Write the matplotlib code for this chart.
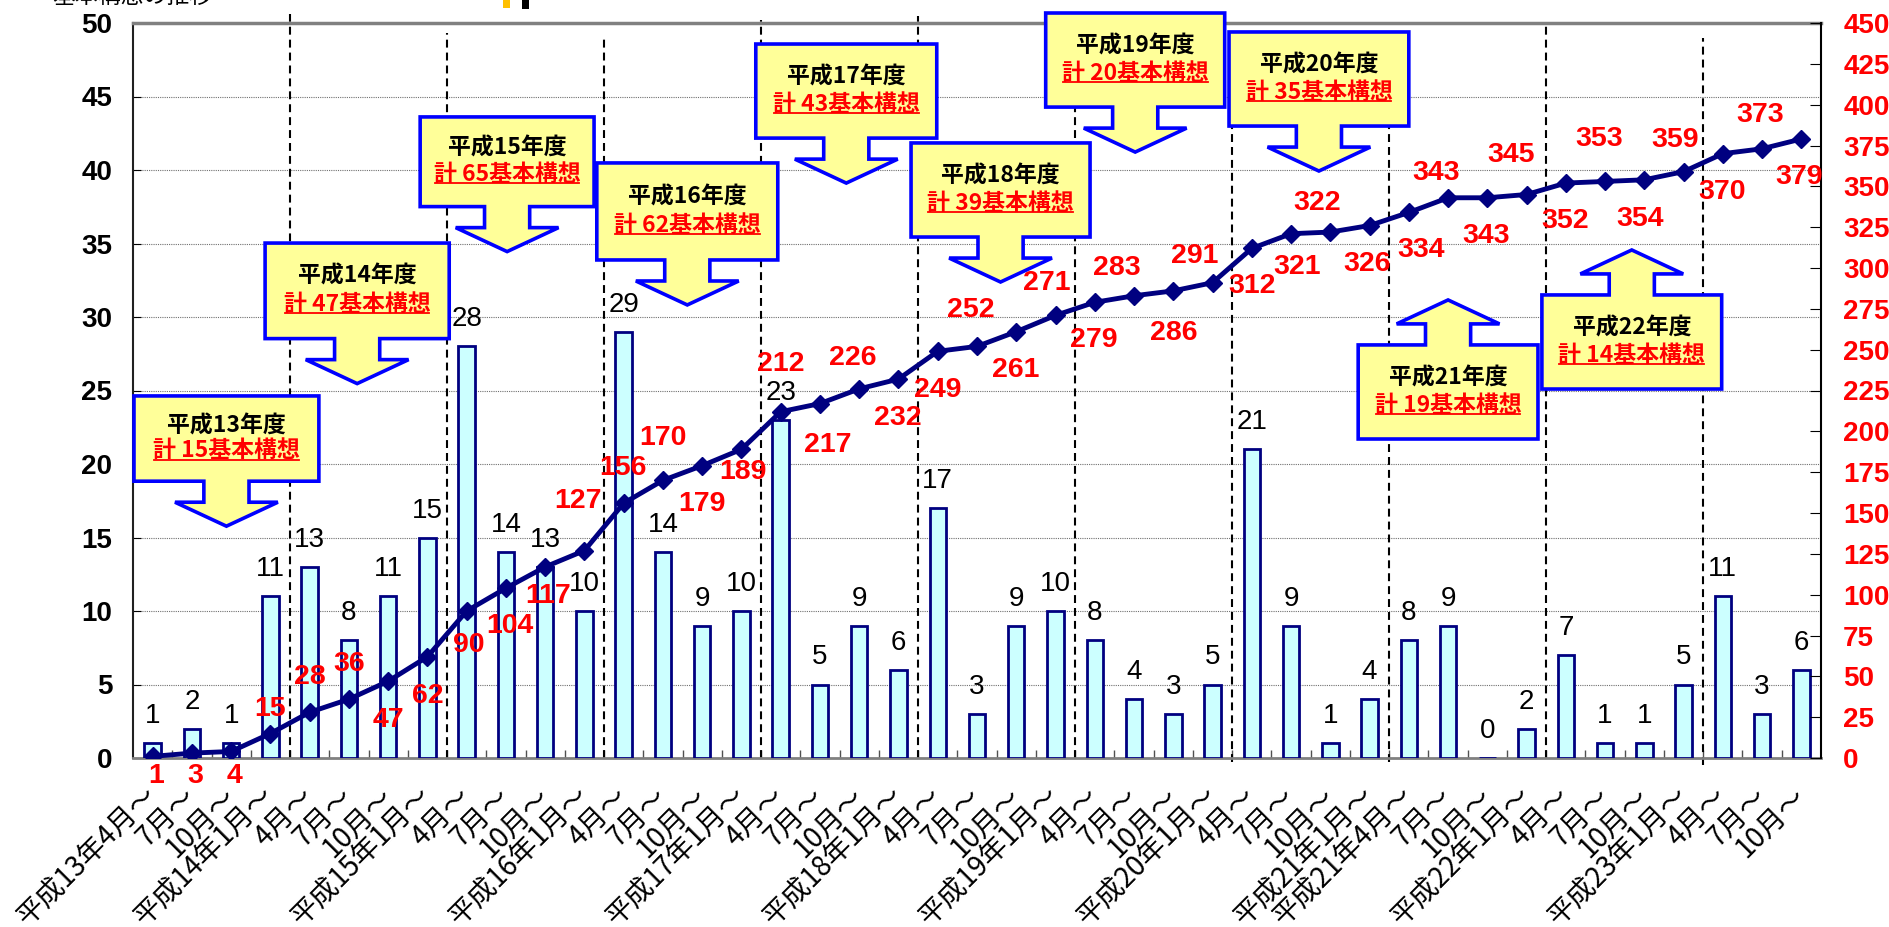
import numpy as np
import matplotlib
matplotlib.use('Agg')
import matplotlib.pyplot as plt
from matplotlib.patches import Polygon, Rectangle
from matplotlib.lines import Line2D

plt.rcParams['font.family'] = ['Liberation Sans', 'Noto Sans CJK JP']

# quarterly periods (平成13年4月 - 平成23年10月)
periods = ['平成13年4月～', '7月～', '10月～', '平成14年1月～',
           '4月～', '7月～', '10月～', '平成15年1月～',
           '4月～', '7月～', '10月～', '平成16年1月～',
           '4月～', '7月～', '10月～', '平成17年1月～',
           '4月～', '7月～', '10月～', '平成18年1月～',
           '4月～', '7月～', '10月～', '平成19年1月～',
           '4月～', '7月～', '10月～', '平成20年1月～',
           '4月～', '7月～', '10月～', '平成21年1月～',
           '平成21年4月～', '7月～', '10月～', '平成22年1月～',
           '4月～', '7月～', '10月～', '平成23年1月～',
           '4月～', '7月～', '10月～']
counts = [1, 2, 1, 11, 13, 8, 11, 15, 28, 14, 13, 10, 29, 14, 9, 10,
          23, 5, 9, 6, 17, 3, 9, 10, 8, 4, 3, 5, 21, 9, 1, 4,
          8, 9, 0, 2, 7, 1, 1, 5, 11, 3, 6]
cumulative = [1, 3, 4, 15, 28, 36, 47, 62, 90, 104, 117, 127, 156, 170, 179, 189,
              212, 217, 226, 232, 249, 252, 261, 271, 279, 283, 286, 291,
              312, 321, 322, 326, 334, 343, 343, 345, 352, 353, 354, 359,
              370, 373, 379]
fy_names = ['平成13年度', '平成14年度', '平成15年度', '平成16年度', '平成17年度',
            '平成18年度', '平成19年度', '平成20年度', '平成21年度', '平成22年度']
fy_totals = [15, 47, 65, 62, 43, 39, 20, 35, 19, 14]

# layout: label offsets (pixels) for cumulative numbers
cum_off = [(3, -20), (3, -23), (3, -25), (0, 25), (0, 35), (0, 35), (0, -39), (0, -39),
           (2, -34), (4, -38), (3, -29), (-6, 50), (-1, 35), (0, 42), (0, -38), (1, -23),
           (0, 48), (8, -41), (-6, 31), (-1, -39), (0, -39), (-6, 36), (-1, -38), (-9, 32),
           (-1, -38), (-17, 28), (0, -42), (-18, 27), (0, -38), (6, -33), (-13, 29), (-2, -38),
           (12, -38), (-12, 25), (-1, -38), (-15, 40), (-1, -38), (-6, 42), (-4, -39), (-9, 32),
           (-1, -38), (-2, 34), (-2, -38)]
# layout: callouts (center x, box top, width, height, direction) in left-axis units
callouts = [(1.88, 24.63, 4.71, 5.8, 'down'), (5.21, 35.03, 4.69, 6.5, 'down'),
            (9.03, 43.61, 4.43, 6.1, 'down'), (13.62, 40.48, 4.61, 6.6, 'down'),
            (17.67, 48.57, 4.61, 6.4, 'down'), (21.60, 41.84, 4.56, 6.4, 'down'),
            (25.03, 50.68, 4.56, 6.4, 'down'), (29.71, 49.39, 4.58, 6.4, 'down'),
            (33.00, 28.10, 4.58, 6.4, 'up'), (37.68, 31.50, 4.58, 6.4, 'up')]
# layout: fiscal-year separators (x, bottom, top)
separators = [(3.5, 0, 50.6), (7.5, 0, 49.3), (11.5, 0, 49.0), (15.5, 0, 50.2), (19.5, 0, 50.5),
              (23.5, 0, 50.0), (27.5, -0.3, 49.0), (31.5, -0.3, 49.0), (35.5, 0, 50.0),
              (39.5, -0.5, 49.0)]

W, H = 1890, 927
fig = plt.figure(figsize=(W/100, H/100), dpi=100)
ax = fig.add_axes([133/W, 1-758/H, (1821-133)/W, (758-23)/H])
ax2 = ax.twinx()
ax2.set_zorder(ax.get_zorder()+1)
ax2.patch.set_visible(False)

x = np.arange(len(counts))
narrow = ['Liberation Sans Narrow', 'Liberation Sans']

ax.bar(x, counts, width=0.42, color='#CCFFFF', edgecolor='#000080', linewidth=2, zorder=3)
for i, c in enumerate(counts):
    ax.annotate(str(c), (i, c), xytext=(0, 27), textcoords='offset pixels',
                ha='center', va='center', fontsize=20, color='black', zorder=4)

for sx, y0, y1 in separators:
    ax.plot([sx, sx], [y0, y1], color='black', lw=1.5, ls=(0, (3.8, 2.4)), clip_on=False, zorder=2)

ax.set_xlim(-0.5, len(counts)-0.5)
ax.set_ylim(0, 50)
ax.set_yticks(np.arange(0, 51, 5))
ax.grid(axis='y', color='#707070', ls=(0, (1, 1)), lw=0.8)
ax.set_axisbelow(True)
ax.set_xticks(x)
ax.set_xticklabels(periods, rotation=45, ha='right', va='center', rotation_mode='anchor',
                   fontsize=20, family=['Noto Sans CJK JP'])
ax.set_xticks(np.arange(0.5, len(counts)-1, 1), minor=True)
ax.tick_params(axis='x', which='major', length=0, pad=24)
ax.tick_params(axis='x', which='minor', direction='in', length=6, color='#505050', width=1)
ax.tick_params(axis='y', direction='in', length=6, pad=15, labelsize=20)
for lab in ax.get_yticklabels():
    lab.set_fontweight('bold')

ax.spines['top'].set_color('#808080')
ax.spines['top'].set_linewidth(2.5)
ax.spines['bottom'].set_color('#808080')
ax.spines['bottom'].set_linewidth(2)
ax.spines['left'].set_color('#202020')
ax.spines['left'].set_linewidth(1.5)
ax.spines['right'].set_visible(False)
for s in ['top', 'bottom', 'left']:
    ax2.spines[s].set_visible(False)
ax2.spines['right'].set_color('black')
ax2.spines['right'].set_linewidth(1.5)

ax2.plot(x, cumulative, color='#000080', lw=3.5, marker='D', ms=9, zorder=5)
ax2.set_ylim(0, 450)
ax2.set_yticks(np.arange(0, 451, 25))
ax2.tick_params(axis='y', direction='in', length=8, pad=16, labelsize=20, labelcolor='red', color='black')
for lab in ax2.get_yticklabels():
    lab.set_fontweight('bold')
for i, v in enumerate(cumulative):
    ax2.annotate(str(v), (i, v), xytext=cum_off[i], textcoords='offset pixels',
                 ha='center', va='center', fontsize=20.5, fontweight='bold',
                 color='red', family=narrow, zorder=6)

# callouts for each fiscal year
shaft_w, head_w, shaft_l, head_l = 1.15, 2.62, 1.43, 1.63
red_lines = []
for (cx, top, w, h, d), name, tot in zip(callouts, fy_names, fy_totals):
    bot = top - h
    x0, x1 = cx - w/2, cx + w/2
    if d == 'down':
        b, s = bot, -1
        pts = [(x0, top), (x1, top), (x1, bot)]
    else:
        b, s = top, 1
        pts = [(x0, bot), (x1, bot), (x1, top)]
    pts += [(cx + shaft_w/2, b), (cx + shaft_w/2, b + s*shaft_l), (cx + head_w/2, b + s*shaft_l),
            (cx, b + s*(shaft_l + head_l)), (cx - head_w/2, b + s*shaft_l),
            (cx - shaft_w/2, b + s*shaft_l), (cx - shaft_w/2, b)]
    pts += [(x0, bot)] if d == 'down' else [(x0, top)]
    ax2.add_patch(Polygon(pts, closed=True, facecolor='#FFFF99', edgecolor='#0000FF',
                          linewidth=2.6, transform=ax.transData, clip_on=False, zorder=8))
    ax2.text(cx, top - 0.35*h, name, transform=ax.transData, ha='center', va='center',
             fontsize=16.5, fontweight='bold', color='black', family=['Noto Sans CJK JP'],
             zorder=9, clip_on=False)
    t = ax2.text(cx, top - 0.64*h, '計 ' + str(tot) + '基本構想', transform=ax.transData,
                 ha='center', va='center', fontsize=16.5, fontweight='bold', color='red',
                 family=['Noto Sans CJK JP'], zorder=9, clip_on=False)
    red_lines.append((t, cx, top - 0.64*h))

# underline the red totals
fig.canvas.draw()
r = fig.canvas.get_renderer()
inv = fig.transFigure.inverted()
for t, cx, ty in red_lines:
    bb = t.get_window_extent(r)
    cy = ax.transData.transform((cx, ty))[1]
    uy = cy - 9
    p0 = inv.transform((bb.x0 + 1, uy))
    p1 = inv.transform((bb.x1 - 1, uy))
    fig.add_artist(Line2D([p0[0], p1[0]], [p0[1], p1[1]], color='red', lw=1.3, zorder=10))

# cut-off header remnants at the top edge
fig.text(52/W, 1 - 3/H, '基本構想の推移', fontsize=16.5, va='baseline', ha='left',
         family=['Noto Sans CJK JP'], color='black')
fig.add_artist(Rectangle((503/W, 1 - 8/H), 7/W, 8/H, transform=fig.transFigure,
                         facecolor='#FFC000', edgecolor='none'))
fig.add_artist(Rectangle((522/W, 1 - 9/H), 7/W, 9/H, transform=fig.transFigure,
                         facecolor='black', edgecolor='none'))

fig.savefig('out.png', dpi=100)
